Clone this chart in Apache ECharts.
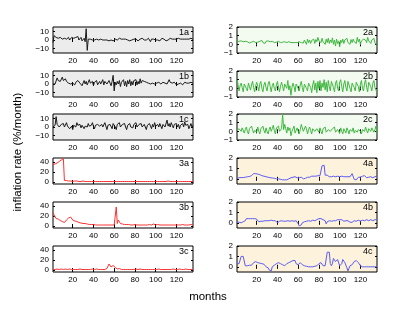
<!DOCTYPE html>
<html><head><meta charset="utf-8">
<script src="https://cdn.jsdelivr.net/npm/echarts@6/dist/echarts.min.js"></script>
<style>html,body{margin:0;padding:0;background:#fff}#c{width:415px;height:312px}</style>
</head><body><div id="c"></div>
<script>
const xTicks = [20, 40, 60, 80, 100, 120];
const s1a = [-3,5,4,3,5,2,4,3,3,1,
 3,2,4,1,2,3,0,2,3,1,
 2,0,3,1,4,0,2,3,-1,1,
 2,-2,13,-12,1,0,1,-1,0,1,
 0,-1,1,0,0,-1,1,2,0,-1,
 0,1,0,0,-1,1,0,0,-1,0,
 1,0,0,1,2,0,1,-1,1,0,
 1,2,0,1,-1,1,0,2,1,0,
 1,0,-1,1,1,0,2,1,0,1,
 0,-1,2,0,-2,1,0,1,2,0,
 1,0,1,-1,0,2,0,1,0,-1,
 1,0,1,2,0,1,0,1,0,1,
 0,2,0,1,0,1,-1,1,0,1,
 0,1,0,2,0,1];
const s1b = [0,1,0,2,7,4,6,3,5,8,
 4,2,6,3,4,1,3,0,2,1,
 3,-1,2,0,4,2,1,3,-2,1,
 4,0,3,-1,2,5,1,0,3,-2,
 2,0,4,-1,1,3,0,2,5,-1,
 3,1,0,2,4,1,-2,3,10,-8,
 2,-1,3,0,4,-3,2,0,5,-2,
 3,-3,4,0,5,-2,3,-1,4,2,
 5,-1,3,0,6,1,4,2,3,1,
 2,3,1,2,0,2,1,3,0,2,
 1,0,2,1,0,1,2,0,1,2,
 0,1,5,2,0,1,0,2,1,-1,
 1,0,2,1,0,-1,1,2,0,1,
 0,1,-1,2,0,1];
const s1c = [0,-1,2,12,3,1,0,2,3,1,
 4,0,2,5,1,3,-2,0,1,-3,
 2,4,0,5,2,1,3,-1,2,0,
 -2,1,3,0,4,1,-1,2,5,1,
 -2,2,0,3,4,1,-1,3,0,2,
 5,1,-3,2,0,3,1,-2,4,2,
 0,-3,3,1,5,0,-2,3,1,4,
 0,-3,2,1,4,0,2,-1,3,1,
 5,0,-2,3,1,4,0,-1,3,2,
 -3,2,0,4,1,-2,3,0,5,1,
 -1,3,0,4,2,-2,3,1,0,2,
 8,1,4,0,5,2,-1,3,1,4,
 0,3,-2,2,1,4,0,6,2,0,
 3,-2,1,4,0,2];
const s2a = [0.3,0.2,0.35,0.25,0.4,0.2,0.3,0.1,0.35,0.2,
 0.3,0.4,0.15,0.3,0.25,0.1,0.35,0.3,0.2,0.4,
 0.25,0.15,0.35,0.3,0.45,0.2,0.3,0.1,0.35,0.25,
 0.4,0.2,0.3,0.15,0.35,0.45,0.2,0.3,0.25,0.1,
 0.35,0.3,0.2,0.4,0.25,0.15,0.3,0.35,0.2,0.1,
 0.3,0.25,0.2,0.2,0.2,0.2,0.2,0.2,0.2,0.15,
 0.3,0.1,0.2,0.4,0.15,0.5,0.3,0.0,0.6,0.2,
 0.5,0.1,0.45,0.3,0.6,0.1,0.55,0.3,0.8,0.4,
 0.6,0.2,0.7,0.3,0.5,0.0,0.6,0.2,0.7,0.1,
 0.5,0.2,0.75,0.0,0.5,-0.2,0.6,0.1,0.4,-0.3,
 0.5,0.2,0.6,0.1,0.5,0.3,0.7,0.2,0.4,0.0,
 0.55,0.2,0.6,0.3,0.5,0.1,0.8,0.3,0.6,0.0,
 0.4,0.2,0.6,0.7,0.5,0.2,0.8,0.4,0.6,0.1,
 0.5,0.3,0.7,0.2,0.1,-0.2];
const s2b = [1.0,0.4,-0.3,0.3,0.6,0.1,-0.4,0.5,0.7,0.0,
 -0.3,0.6,0.2,-0.2,0.4,0.8,0.1,-0.4,0.3,0.7,
 0.2,-0.3,0.5,0.8,0.0,-0.4,0.4,0.7,0.1,-0.3,
 0.5,0.8,0.2,-0.4,0.3,0.6,0.0,-0.3,0.4,0.8,
 0.1,-0.4,0.3,0.7,0.2,-0.3,0.5,0.6,0.0,0.9,
 -0.2,0.3,-0.8,0.1,0.6,0.2,-0.4,0.5,0.7,0.0,
 -0.3,0.4,0.8,0.1,-0.4,0.5,0.7,0.0,-0.3,0.6,
 0.8,0.1,-0.5,0.4,0.9,-0.2,0.6,-0.5,0.8,0.0,
 0.9,-0.3,0.6,0.1,1.0,-0.2,0.7,-0.4,0.9,0.2,
 -0.3,0.8,1.0,0.1,-0.4,0.6,0.9,0.0,-0.3,0.7,
 1.0,0.2,-0.4,0.5,0.9,0.1,-0.3,0.8,1.0,0.0,
 -0.4,0.6,0.8,0.1,-0.3,0.7,0.9,0.2,-0.4,0.5,
 0.9,0.0,-0.3,0.6,1.0,0.1,-0.4,0.7,0.8,0.2,
 -0.3,0.6,0.9,0.1,0.3,-0.5];
const s2c = [0.1,-0.1,0.3,0.5,0.0,0.4,0.3,-0.2,0.2,0.5,
 0.0,-0.3,0.3,0.1,0.6,0.2,-0.2,0.1,0.3,-0.1,
 0.5,0.0,-0.3,0.3,0.2,0.6,0.1,-0.2,0.4,0.0,
 -0.3,0.2,0.5,0.0,0.3,0.7,0.1,-0.3,0.4,0.2,
 0.6,0.0,-0.2,0.3,2.0,0.2,0.8,0.3,-0.2,0.5,
 0.1,0.4,-0.5,0.0,0.3,0.6,-0.2,0.1,0.4,0.0,
 -0.3,0.2,0.8,0.4,0.0,-0.2,0.6,0.3,-0.3,0.2,
 0.5,0.1,-0.3,0.3,0.4,0.0,-0.2,0.3,0.2,-0.1,
 0.4,0.0,-0.3,0.3,0.2,0.5,-0.1,-0.3,0.2,0.4,
 0.0,-0.2,0.3,0.1,0.5,-0.1,-0.3,0.2,0.3,-0.2,
 0.4,0.0,-0.3,0.3,0.2,-0.2,0.4,0.1,-0.3,0.2,
 0.3,0.0,0.4,-0.2,0.1,0.3,-0.1,0.2,0.4,0.0,
 -0.3,0.2,0.3,0.0,0.5,0.1,-0.2,0.3,0.2,0.0,
 0.4,0.5,-0.1,0.2,0.6,-0.3];
const s3a = [35,35,36,37,38,40,41,43,44,46,
 47,3,2,3,2,2,3,2,2,1,
 2,2,1,2,1,1,2,1,1,2,
 1,1,1,1,2,1,1,1,1,1,
 1,1,1,1,1,1,1,1,1,1,
 1,1,1,1,1,1,1,1,0,1,
 1,1,1,1,1,1,1,1,1,1,
 1,1,1,1,1,1,1,1,1,1,
 1,1,1,1,1,1,1,1,1,1,
 1,1,1,1,1,1,1,1,1,1,
 1,1,1,1,1,1,1,1,1,1,
 1,2,2,1,1,1,1,1,1,1,
 1,1,1,1,1,1,1,1,1,1,
 1,1,1,1,1,1];
const s3b = [27,22,18,15,17,14,13,11,10,9,
 8,7,8,12,15,16,17,18,14,12,
 11,10,9,9,8,7,7,6,6,5,
 5,5,4,4,4,3,3,3,3,3,
 3,2,3,2,2,2,2,2,2,2,
 2,2,2,2,2,2,2,2,2,2,
 3,38,5,12,8,5,4,4,3,3,
 3,3,2,3,3,2,3,2,2,3,
 2,2,3,2,2,2,3,2,2,2,
 2,2,2,3,2,2,2,4,2,2,
 2,3,2,2,2,2,3,2,2,2,
 2,2,3,2,2,2,2,2,3,2,
 2,2,2,2,2,3,2,2,2,2,
 2,2,2,3,2,2];
const s3c = [1,2,1,1,2,1,1,1,2,1,
 1,1,2,1,1,1,2,1,1,1,
 1,2,1,1,1,1,2,1,1,2,
 1,1,1,2,1,1,1,1,2,1,
 1,1,2,1,1,1,1,2,1,1,
 1,2,3,5,12,8,6,7,9,6,
 5,3,2,4,3,2,1,2,1,1,
 1,2,1,1,1,2,1,1,1,1,
 2,1,1,1,2,1,1,1,1,2,
 1,1,1,2,1,1,1,2,1,1,
 1,1,2,1,1,1,1,2,1,1,
 1,2,1,1,1,1,2,1,1,1,
 1,1,2,1,1,1,1,1,2,1,
 1,1,1,2,1,1];
const s4a = [0.05,0.08,0.1,0.1,0.12,0.1,0.12,0.15,0.15,0.18,
 0.2,0.2,0.22,0.25,0.3,0.35,0.5,0.55,0.5,0.45,
 0.45,0.4,0.4,0.35,0.3,0.3,0.25,0.2,0.2,0.15,
 0.15,0.1,0.1,0.1,0.08,0.05,0.05,0.05,0.0,0.0,
 0.0,-0.05,-0.05,-0.1,-0.1,-0.1,-0.1,-0.12,-0.1,-0.05,
 0.0,0.05,0.1,0.1,0.15,0.2,0.2,0.15,0.1,0.1,
 0.1,0.2,0.15,0.05,0.0,0.0,0.05,0.1,0.15,0.2,
 0.15,0.2,0.25,0.2,0.25,0.3,0.25,0.25,0.3,0.3,
 0.3,0.3,1.25,1.3,1.3,0.35,0.4,0.35,0.25,0.2,
 0.25,0.2,0.2,0.25,0.25,0.2,0.2,0.25,0.2,0.2,
 0.2,0.25,0.2,0.2,0.25,0.2,0.2,0.2,0.25,0.2,
 0.3,0.5,0.45,-0.05,-0.1,-0.1,0.05,0.15,0.2,0.15,
 0.2,0.25,0.3,0.3,0.2,0.1,0.1,0.15,0.2,0.2,
 0.15,0.1,0.15,0.2,0.2,0.25];
const s4b = [0.1,0.1,0.05,0.0,0.0,0.05,0.1,0.1,0.2,0.4,
 0.4,0.4,0.4,0.4,0.4,0.4,0.4,0.4,0.4,0.35,
 0.35,0.1,0.15,0.15,0.2,0.15,0.15,0.2,0.2,0.2,
 0.25,0.2,0.25,0.25,0.2,0.2,0.15,0.2,0.05,0.0,
 0.0,0.15,0.2,0.2,0.15,0.15,0.2,0.15,0.15,0.2,
 0.15,0.15,0.2,0.2,0.2,0.15,0.15,0.2,0.1,-0.1,
 -0.3,-0.3,-0.2,0.0,0.1,0.1,0.15,0.15,0.1,0.2,
 0.2,0.15,0.2,0.25,0.2,0.2,0.3,0.3,0.35,0.4,
 0.4,0.4,0.35,0.3,0.3,0.2,-0.1,0.1,0.2,0.2,
 0.2,0.15,0.2,0.2,0.15,0.2,0.25,0.3,0.35,0.3,
 0.35,0.3,0.2,0.15,0.2,0.2,0.15,0.2,0.1,0.05,
 0.0,0.05,0.15,0.2,0.2,0.15,0.2,0.25,0.2,0.15,
 0.2,0.25,0.2,0.2,0.25,0.3,0.25,0.2,0.25,0.3,
 0.25,0.2,0.25,0.3,0.3,0.3];
const s4c = [0.3,0.3,0.3,0.35,1.0,1.0,1.0,0.95,0.1,0.1,
 0.1,0.1,0.15,0.15,0.15,0.3,0.4,0.5,0.5,0.45,
 0.4,0.4,0.35,0.35,0.3,0.3,0.25,0.1,0.0,-0.1,
 -0.1,-0.3,-0.4,-0.4,0.0,0.1,0.15,0.2,0.3,0.35,
 0.4,0.4,0.3,0.25,0.2,0.1,0.1,0.2,0.3,0.35,
 0.4,0.4,0.5,0.55,0.6,0.6,0.6,0.3,0.2,0.2,
 0.35,0.4,0.3,0.2,0.1,0.1,0.1,0.05,0.05,0.0,
 0.0,0.0,0.0,0.0,0.0,0.05,0.05,0.1,0.2,0.3,
 0.4,0.4,0.3,0.1,0.05,0.1,0.2,1.4,1.4,1.4,
 0.3,0.1,0.3,0.8,0.8,0.5,0.5,0.7,0.8,0.1,
 0.1,0.3,0.7,0.7,0.4,0.3,-0.1,-0.4,-0.3,0.1,
 0.2,0.2,0.3,0.5,0.6,0.6,0.5,0.4,0.4,0.1,
 0.0,0.0,0.0,0.0,0.0,0.0,0.0,0.0,0.0,0.0,
 0.0,0.0,0.0,0.0,0.0,0.0];

const kinds = {
  k: {min: -15, max: 15, ticks: [-10, 0, 10], bg: '#ececec', color: '#1a1a1a'},
  g: {min: -1, max: 2, ticks: [-1, 0, 1, 2], bg: '#f3fbf1', color: '#40b840'},
  r: {min: -4, max: 48, ticks: [0, 20, 40], bg: '#ffffff', color: '#ff3030'},
  b: {min: -0.5, max: 2, ticks: [0, 1, 2], bg: '#fdf2dc', color: '#5c5cf5'}
};
const panels = [
  ['1a', s1a, 0, 0, 'k'], ['1b', s1b, 0, 1, 'k'], ['1c', s1c, 0, 2, 'k'],
  ['3a', s3a, 0, 3, 'r'], ['3b', s3b, 0, 4, 'r'], ['3c', s3c, 0, 5, 'r'],
  ['2a', s2a, 1, 0, 'g'], ['2b', s2b, 1, 1, 'g'], ['2c', s2c, 1, 2, 'g'],
  ['4a', s4a, 1, 3, 'b'], ['4b', s4b, 1, 4, 'b'], ['4c', s4c, 1, 5, 'b']
];
const FONT = '"Liberation Sans", Arial, sans-serif';
const colLeft = [53, 237], W = 140, H = 26;
const rowTop = [27, 71, 114, 158, 202, 246];
const fmt = v => String(v).replace('-', '\u2212');

const grid = [], xAxis = [], yAxis = [], series = [], graphic = [];
panels.forEach((p, i) => {
  const [name, data, col, row, kind] = p;
  const k = kinds[kind];
  const left = colLeft[col], top = rowTop[row];
  grid.push({left, top, width: W, height: H, show: true, backgroundColor: k.bg,
    borderColor: '#000', borderWidth: 1, containLabel: false});
  const tickStyle = {show: true, inside: true, length: 2, lineStyle: {color: '#000', width: 1}};
  xAxis.push({gridIndex: i, type: 'value', min: 1, max: 136, position: 'bottom',
    axisLine: {show: false}, splitLine: {show: false},
    axisTick: Object.assign({customValues: xTicks}, tickStyle),
    axisLabel: {customValues: xTicks, fontSize: 8, margin: 4, color: '#000', fontFamily: FONT}});
  xAxis.push({gridIndex: i, type: 'value', min: 1, max: 136, position: 'top',
    axisLine: {show: false}, splitLine: {show: false},
    axisTick: Object.assign({customValues: xTicks}, tickStyle),
    axisLabel: {show: false}});
  yAxis.push({gridIndex: i, type: 'value', min: k.min, max: k.max, position: 'left',
    axisLine: {show: false}, splitLine: {show: false},
    axisTick: Object.assign({customValues: k.ticks}, tickStyle),
    axisLabel: {customValues: k.ticks, fontSize: 8, margin: 4, color: '#000', fontFamily: FONT, formatter: fmt}});
  yAxis.push({gridIndex: i, type: 'value', min: k.min, max: k.max, position: 'right',
    axisLine: {show: false}, splitLine: {show: false},
    axisTick: Object.assign({customValues: k.ticks}, tickStyle),
    axisLabel: {show: false}});
  series.push({type: 'line', xAxisIndex: 2 * i, yAxisIndex: 2 * i,
    data: data.map((v, j) => [j + 1, v]), showSymbol: false, symbol: 'none',
    lineStyle: {color: k.color, width: 1}, clip: true, silent: true});
  graphic.push({type: 'text', left: left + W - 14, top: top + 1,
    style: {text: name, font: '9px ' + FONT, fill: '#000'}});
});
graphic.push({type: 'text', x: 18, y: 152, rotation: Math.PI / 2,
  style: {text: 'inflation rate (%/month)', font: '11.5px ' + FONT, fill: '#000', align: 'center', verticalAlign: 'middle'}});
graphic.push({type: 'text', x: 208, y: 297,
  style: {text: 'months', font: '11.5px ' + FONT, fill: '#000', align: 'center', verticalAlign: 'middle'}});

const chart = echarts.init(document.getElementById('c'), null, {renderer: 'canvas'});
chart.setOption({animation: false, grid, xAxis, yAxis, series, graphic});
</script></body></html>
